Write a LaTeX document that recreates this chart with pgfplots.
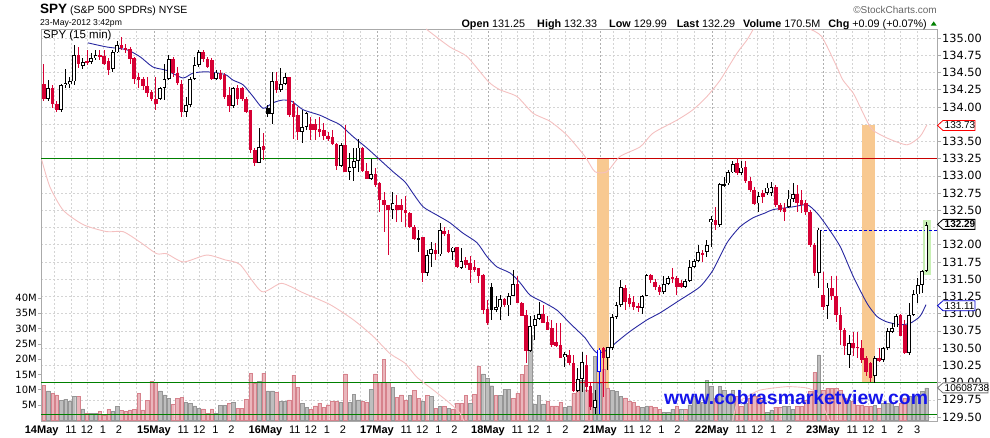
\documentclass[border=0pt]{standalone}
\usepackage{pgfplots}
\pgfplotsset{compat=1.18}
\usepackage{pgfplotstable}
\usepackage{fontspec}
\setmainfont{Liberation Sans}
\newfontfamily\dv{DejaVu Sans}
\definecolor{candred}{RGB}{214,0,52}
\definecolor{volred}{RGB}{234,182,188}
\definecolor{volredb}{RGB}{214,130,140}
\definecolor{volgray}{RGB}{190,190,190}
\definecolor{volgrayb}{RGB}{150,150,150}
\definecolor{gridc}{RGB}{212,212,212}
\definecolor{daygrid}{RGB}{175,175,175}
\definecolor{framec}{RGB}{170,170,170}
\definecolor{bbpink}{RGB}{244,192,192}
\definecolor{manavy}{RGB}{40,40,160}
\definecolor{orng}{RGB}{248,201,145}
\definecolor{hlgreen}{RGB}{200,240,180}
\definecolor{grnline}{RGB}{0,128,0}
\definecolor{redline}{RGB}{200,0,0}
\definecolor{wwwblue}{RGB}{20,20,235}

\pgfplotstableread{
i o h l c k
0 134.34 134.63 134.08 134.11 0
1 134.11 134.39 134.09 134.28 1
2 134.28 134.32 133.98 134.05 0
3 134.04 134.08 133.93 133.96 0
4 133.96 134.34 133.93 134.32 1
5 134.32 134.55 134.27 134.35 1
6 134.34 134.44 134.28 134.37 1
7 134.37 134.90 134.32 134.75 1
8 134.75 134.87 134.56 134.63 0
9 134.59 134.71 134.55 134.65 1
10 134.67 134.83 134.61 134.64 0
11 134.65 134.78 134.63 134.71 1
12 134.71 134.83 134.68 134.75 1
13 134.75 134.83 134.68 134.72 0
14 134.74 134.83 134.61 134.63 0
15 134.66 134.71 134.46 134.54 0
16 134.55 134.83 134.51 134.79 1
17 134.79 134.95 134.78 134.90 1
18 134.90 135.02 134.83 134.85 0
19 134.86 134.92 134.78 134.83 0
20 134.84 134.87 134.63 134.69 0
21 134.71 134.73 134.34 134.41 0
22 134.44 134.49 134.27 134.39 0
23 134.40 134.44 134.25 134.30 0
24 134.30 134.44 134.15 134.20 0
25 134.21 134.25 134.08 134.11 0
26 134.12 134.44 133.96 134.05 0
27 134.12 134.29 134.10 134.27 1
28 134.27 134.63 134.10 134.41 1
29 134.41 134.75 134.39 134.69 1
30 134.69 134.73 134.44 134.49 0
31 134.49 134.58 134.32 134.34 0
32 134.34 134.39 133.86 133.93 0
33 133.93 134.15 133.86 134.03 1
34 134.03 134.44 134.00 134.41 1
35 134.41 134.73 134.39 134.61 1
36 134.61 134.82 134.58 134.79 1
37 134.80 134.83 134.66 134.69 0
38 134.69 134.73 134.56 134.58 0
39 134.68 134.71 134.39 134.41 0
40 134.41 134.54 134.39 134.50 1
41 134.50 134.54 134.39 134.41 0
42 134.46 134.49 134.12 134.15 0
43 134.17 134.29 133.93 134.01 0
44 134.01 134.29 133.99 134.27 1
45 134.28 134.32 134.03 134.11 0
46 134.27 134.29 134.08 134.11 0
47 134.12 134.15 133.91 133.93 0
48 133.96 133.96 133.33 133.37 0
49 133.37 133.40 133.14 133.19 0
50 133.19 133.69 133.18 133.42 1
51 133.43 133.62 133.23 133.37 0
52 133.98 134.03 133.86 133.90 2
53 133.90 134.51 133.76 134.37 1
54 134.37 134.51 134.20 134.25 0
55 134.25 134.56 134.22 134.33 1
56 134.33 134.49 134.32 134.43 1
57 134.43 134.44 133.86 133.88 0
58 134.05 134.08 133.54 133.86 0
59 133.88 134.00 133.52 133.64 0
60 133.64 133.96 133.48 133.71 1
61 133.71 133.93 133.67 133.91 1
62 133.75 133.86 133.52 133.67 0
63 133.75 133.83 133.52 133.67 0
64 133.68 133.86 133.57 133.64 0
65 133.67 133.76 133.52 133.58 0
66 133.58 133.64 133.50 133.54 0
67 133.57 133.66 133.45 133.47 0
68 133.47 133.47 133.08 133.14 0
69 133.14 133.47 133.13 133.45 1
70 133.45 133.74 133.05 133.06 0
71 133.06 133.33 132.94 133.13 1
72 133.12 133.40 132.93 133.21 1
73 133.21 133.54 133.06 133.41 1
74 133.41 133.42 133.06 133.07 0
75 133.07 133.19 132.95 132.96 0
76 132.96 133.25 132.94 133.03 1
77 133.03 133.11 132.84 132.87 0
78 132.89 132.91 132.48 132.65 0
79 132.65 132.77 132.19 132.58 0
80 132.58 132.58 131.85 132.50 0
81 132.51 132.77 132.38 132.60 1
82 132.58 132.72 132.33 132.50 0
83 132.58 132.67 132.33 132.50 0
84 132.51 132.70 132.26 132.46 0
85 132.46 132.48 132.24 132.26 0
86 132.26 132.29 132.07 132.08 0
87 132.08 132.21 131.90 132.10 1
88 132.11 132.12 131.46 131.59 0
89 131.59 131.92 131.54 131.85 1
90 131.86 132.04 131.68 131.94 1
91 131.92 132.02 131.78 131.86 0
92 131.86 132.31 131.84 132.21 1
93 132.20 132.26 132.13 132.15 0
94 132.16 132.21 131.88 131.90 0
95 131.90 131.97 131.78 131.96 1
96 131.96 131.97 131.66 131.67 0
97 131.67 131.95 131.65 131.76 1
98 131.78 131.83 131.66 131.71 0
99 131.73 131.83 131.44 131.64 0
100 131.68 131.78 131.61 131.64 0
101 131.66 131.66 131.44 131.54 0
102 131.56 131.58 131.00 131.06 0
103 131.07 131.20 130.83 130.86 0
104 131.39 131.44 130.91 131.06 2
105 131.06 131.25 131.03 131.09 1
106 131.09 131.27 130.91 131.21 1
107 131.21 131.22 131.10 131.12 0
108 131.12 131.30 130.97 131.26 1
109 131.26 131.63 131.25 131.43 1
110 131.43 131.54 131.15 131.16 0
111 131.16 131.17 130.96 130.97 0
112 130.98 131.05 130.28 130.46 0
113 130.46 130.96 130.45 130.82 1
114 130.82 130.98 130.62 130.92 1
115 130.92 131.17 130.91 130.99 1
116 131.00 131.12 130.86 130.87 0
117 130.88 130.96 130.76 130.77 0
118 130.79 130.91 130.52 130.54 0
119 130.59 130.86 130.52 130.53 0
120 130.54 130.86 130.35 130.36 0
121 130.37 130.45 130.23 130.41 1
122 130.40 130.47 130.25 130.28 0
123 130.29 130.40 129.87 129.88 0
124 129.88 130.21 129.87 130.05 1
125 130.05 130.45 129.87 130.30 1
126 130.25 130.40 129.86 129.93 0
127 129.95 129.99 129.60 129.65 0
128 129.63 129.89 129.55 129.75 1
129 130.16 130.50 129.55 130.48 3
130 130.50 130.52 129.79 130.36 0
131 130.36 130.52 130.18 130.51 1
132 130.50 131.00 130.47 130.95 1
133 130.95 131.17 130.93 131.13 1
134 131.13 131.49 131.10 131.38 1
135 131.38 131.42 131.05 131.17 0
136 131.23 131.29 131.10 131.14 0
137 131.17 131.25 131.05 131.09 0
138 131.11 131.15 131.03 131.08 0
139 131.08 131.27 131.00 131.26 1
140 131.26 131.58 131.25 131.56 1
141 131.56 131.58 131.44 131.49 0
142 131.46 131.51 131.34 131.38 0
143 131.38 131.42 131.27 131.31 0
144 131.31 131.54 131.29 131.43 1
145 131.43 131.55 131.42 131.52 1
146 131.53 131.66 131.44 131.50 0
147 131.51 131.54 131.27 131.39 0
148 131.44 131.49 131.37 131.39 0
149 131.39 131.50 131.37 131.47 1
150 131.47 131.78 131.46 131.68 1
151 131.68 131.79 131.66 131.76 1
152 131.76 131.99 131.75 131.89 1
153 131.88 131.92 131.75 131.85 0
154 131.89 132.07 131.83 132.00 1
155 132.33 132.41 131.97 132.37 1
156 132.36 132.55 132.21 132.29 0
157 132.29 132.89 132.26 132.88 1
158 132.86 132.99 132.84 132.88 1
159 132.89 133.08 132.87 133.05 1
160 133.05 133.21 133.04 133.17 1
161 133.18 133.26 133.01 133.04 0
162 133.04 133.21 133.01 133.12 1
163 133.13 133.21 132.90 132.92 0
164 132.92 132.99 132.77 132.79 0
165 132.80 132.84 132.58 132.59 0
166 132.60 132.77 132.48 132.71 1
167 132.75 132.79 132.60 132.70 0
168 132.75 132.90 132.72 132.83 1
169 132.75 132.91 132.70 132.84 1
170 132.84 132.87 132.55 132.58 0
171 132.58 132.60 132.48 132.51 0
172 132.53 132.60 132.35 132.47 0
173 132.55 132.79 132.53 132.67 1
174 132.67 132.89 132.62 132.74 1
175 132.74 132.87 132.47 132.60 0
176 132.65 132.79 132.46 132.58 0
177 132.60 132.65 132.43 132.47 0
178 132.47 132.50 131.97 132.00 0
179 132.00 132.02 131.54 131.59 0
180 131.59 132.24 131.37 132.22 1
181 131.27 131.61 131.05 131.10 0
182 131.11 131.44 130.93 131.38 1
183 131.38 131.54 131.20 131.25 0
184 131.25 131.54 130.88 130.98 0
185 130.98 131.10 130.54 130.76 0
186 130.77 130.79 130.40 130.53 0
187 130.40 130.69 130.21 130.58 1
188 130.58 130.74 130.38 130.50 0
189 130.52 130.74 130.35 130.50 0
190 130.50 130.62 130.28 130.33 0
191 130.35 130.38 130.09 130.16 0
192 130.28 130.30 130.01 130.06 0
193 130.09 130.38 129.99 130.35 1
194 130.35 130.50 130.30 130.32 0
195 130.33 130.52 130.30 130.50 1
196 130.50 130.79 130.47 130.75 1
197 130.74 130.86 130.72 130.79 1
198 130.80 131.00 130.80 130.97 1
199 130.98 131.00 130.67 130.68 0
200 130.83 130.91 130.42 130.43 0
201 130.43 131.15 130.40 130.98 1
202 130.98 131.34 130.96 131.28 1
203 131.28 131.51 131.15 131.42 1
204 131.42 131.64 131.30 131.62 1
205 131.62 132.33 131.61 132.29 1
}\candles

\pgfplotstableread{
i v k
0 11.5 0
1 9.6 1
2 8.8 0
3 8.3 0
4 6.6 1
5 6.9 1
6 6.3 1
7 7.8 1
8 7.8 0
9 3.7 1
10 2.3 0
11 2.3 1
12 2.3 1
13 2.9 0
14 1.7 0
15 3.6 0
16 3.0 1
17 4.6 1
18 3.3 0
19 3.0 0
20 3.4 0
21 3.6 0
22 8.8 0
23 3.4 0
24 6.6 0
25 12.8 0
26 12.3 0
27 9.6 1
28 8.3 1
29 7.1 1
30 5.3 0
31 7.2 0
32 7.5 0
33 5.9 1
34 5.6 1
35 4.7 1
36 4.0 1
37 3.7 0
38 2.3 0
39 3.7 0
40 2.3 1
41 5.0 1
42 5.0 1
43 5.5 0
44 5.9 1
45 4.0 0
46 4.0 0
47 6.9 0
48 15.4 0
49 12.1 0
50 12.8 1
51 15.4 0
52 9.6 1
53 9.6 1
54 9.2 0
55 6.3 1
56 6.3 1
57 6.7 0
58 14.8 0
59 10.8 0
60 5.6 1
61 4.2 1
62 3.6 0
63 4.7 0
64 5.6 0
65 4.2 0
66 5.1 0
67 6.2 0
68 6.2 0
69 5.9 1
70 15.2 0
71 5.9 1
72 8.6 1
73 6.7 1
74 6.2 0
75 5.9 0
76 10.2 1
77 15.2 0
78 12.3 0
79 20.0 0
80 12.3 0
81 10.8 1
82 7.5 0
83 8.3 0
84 6.7 0
85 8.2 1
86 9.9 0
87 7.2 0
88 6.1 1
89 8.2 0
90 7.9 1
91 3.9 0
92 4.5 1
93 4.5 0
94 3.9 1
95 3.6 0
96 5.6 0
97 5.6 0
98 8.2 0
99 5.6 1
100 8.6 0
101 17.8 0
102 15.2 1
103 13.7 1
104 11.3 1
105 8.2 0
106 8.2 1
107 10.1 1
108 10.1 1
109 7.2 0
110 8.8 0
111 15.0 0
112 18.0 0
113 27.9 1
114 5.4 1
115 8.2 1
116 5.4 1
117 6.1 0
118 4.7 0
119 4.7 0
120 5.9 0
121 4.3 1
122 4.7 1
123 8.8 0
124 11.0 0
125 13.0 1
126 10.0 0
127 9.0 0
128 21.0 1
129 12.0 1
130 16.6 0
131 10.6 0
132 9.9 1
133 9.4 1
134 7.8 1
135 7.3 0
136 6.2 0
137 5.9 0
138 4.7 0
139 4.2 1
140 4.7 1
141 4.7 0
142 4.2 0
143 3.6 0
144 2.7 1
145 2.7 1
146 3.6 1
147 4.7 0
148 3.6 1
149 3.6 0
150 5.1 1
151 7.8 1
152 6.2 1
153 5.8 1
154 13.0 1
155 11.2 1
156 7.2 0
157 11.2 1
158 9.7 1
159 8.6 1
160 9.7 1
161 7.9 0
162 4.6 0
163 5.5 1
164 7.2 0
165 7.9 0
166 7.9 0
167 6.6 0
168 2.5 1
169 3.4 1
170 4.3 0
171 4.3 0
172 4.7 1
173 4.5 1
174 3.6 1
175 4.5 0
176 4.5 0
177 6.6 0
178 9.4 0
179 15.6 0
180 21.4 1
181 9.9 0
182 10.5 0
183 10.5 0
184 10.5 0
185 9.9 0
186 7.2 0
187 6.6 1
188 6.1 0
189 5.0 0
190 5.0 0
191 4.5 0
192 4.5 0
193 5.0 1
194 3.9 0
195 5.5 1
196 5.5 1
197 5.5 1
198 4.5 1
199 5.5 0
200 7.2 0
201 7.9 1
202 7.9 1
203 7.9 1
204 9.4 1
205 10.6 1
}\vol

\pgfplotstableread{
i p
10.2 134.93
14.6 134.87
19.2 134.83
22.3 134.73
25.3 134.58
28.5 134.53
32.3 134.42
34.6 134.49
37.8 134.51
42.1 134.47
43.9 134.39
46.3 134.32
48.6 134.15
50.9 133.98
53.2 134.06
55.5 134.10
57.6 134.08
60.2 133.96
64.1 133.88
66.5 133.81
68.8 133.74
71.8 133.57
75.1 133.40
78.1 133.23
81.1 133.06
83.9 132.91
85.7 132.75
88.1 132.55
91.3 132.43
94.3 132.32
97.3 132.17
100.6 132.03
102.9 131.83
105.2 131.68
108.3 131.59
110.6 131.45
112.9 131.27
115.9 131.17
119.2 131.05
122.2 130.86
125.7 130.65
126.9 130.54
128.5 130.43
130.8 130.47
133.1 130.59
136.1 130.74
140.1 130.91
143.1 131.01
147.8 131.20
152.4 131.39
155.4 131.63
158.7 132.03
161.7 132.26
164.7 132.39
167.5 132.46
169.4 132.51
174.0 132.55
177.3 132.58
179.6 132.46
182.0 132.26
185.0 131.97
188.0 131.54
191.2 131.15
193.5 130.96
195.8 130.88
198.9 130.84
201.2 130.86
203.5 130.96
204.9 131.13
}\ma

\pgfplotstableread{
i p
88.8 135.13
94.3 134.87
98.3 134.73
103.2 134.37
105.9 134.25
109.9 134.15
113.6 133.91
117.6 133.79
121.5 133.59
125.7 133.28
128.0 133.06
130.8 133.06
133.8 133.28
138.5 133.42
141.5 133.62
147.1 133.81
150.8 133.96
154.0 134.15
157.1 134.39
161.0 134.78
163.3 134.97
164.8 135.13
}\bbuA

\pgfplotstableread{
i p
177.9 135.13
180.7 135.02
184.2 134.58
185.6 134.39
188.0 134.20
189.6 134.00
191.4 133.77
192.6 133.66
195.8 133.55
200.5 133.45
203.5 133.57
205.1 133.74
}\bbuB

\pgfplotstableread{
i p
-0.5 133.23
1.4 132.84
4.5 132.50
9.2 132.29
14.6 132.19
18.4 132.19
22.3 132.04
26.2 131.87
28.5 131.87
32.4 131.75
37.8 131.85
42.1 131.78
45.6 131.71
50.6 131.32
55.2 131.44
60.3 131.30
66.5 131.13
71.9 130.91
76.5 130.67
80.4 130.42
83.9 130.28
86.6 130.08
90.5 129.89
94.3 129.70
96.6 129.56
97.6 129.44
}\bblA

\pgfplotstableread{
i p
160.0 129.44
161.0 129.70
163.3 129.79
166.3 129.89
172.6 129.94
177.3 129.92
179.6 129.85
181.0 129.65
182.6 129.44
}\bblB

\pgfplotsset{
  base/.style={scale only axis, width=896pt, height=392pt, at={(41pt,17pt)},
    anchor=south west, xmin=-0.67, xmax=207.46},
  wick/.style={draw=none, mark=none, forget plot,
    error bars/y dir=both, error bars/y explicit, error bars/error mark=none,
    error bars/error bar style={line width=0.8pt, draw=#1}},
  body/.style 2 args={draw=none, mark=none, forget plot,
    error bars/y dir=both, error bars/y explicit, error bars/error mark=none,
    error bars/error bar style={line width=#2, draw=#1}},
}
\newcommand{\pricetick}{129.5,129.75,130,130.25,130.5,130.75,131,131.25,131.5,131.75,132,132.25,132.5,132.75,133,133.25,133.5,133.75,134,134.25,134.5,134.75,135}
\newcommand{\pricelab}{129.5,129.75,130,130.25,130.5,130.75,131,131.25,131.5,131.75,132,132.5,132.75,133,133.25,133.5,134,134.25,134.5,134.75,135}
\newcommand{\hourticks}{6.30,10.01,13.73,17.45,32.39,36.10,39.82,43.54,58.29,62.00,65.72,69.44,84.19,87.90,91.62,95.34,109.97,113.68,117.40,121.12,135.99,139.70,143.42,147.14,162.00,165.71,169.43,173.15,187.78,191.49,195.21,198.93,202.87}
\newcommand{\minorticks}{2.51,21.39,28.60,47.48,54.50,73.38,80.40,99.28,106.18,125.06,132.20,151.08,158.21,177.09,183.99}
\newcommand{\dayticks}{-0.51,25.58,51.48,77.38,103.16,129.18,155.19,180.97}

\newcommand{\tagbox}[4]{%
  \filldraw[draw=#2, fill=white, line width=0.8pt] (937.5pt,#1pt) -- (943pt,#1pt+5pt) -- (#3pt,#1pt+5pt) -- (#3pt,#1pt-5pt) -- (943pt,#1pt-5pt) -- cycle;
  \node[anchor=west, inner sep=0pt] at (944.5pt,#1pt) {\fontsize{10}{12}\selectfont #4};}

\begin{document}
\begin{tikzpicture}
\path[use as bounding box] (0pt,0pt) rectangle (990pt,438pt);

% ---- axis 1: grid and highlights
\begin{axis}[base, ymin=129.442, ymax=135.131,
  axis line style={draw=none}, tick style={draw=none},
  xtick/.expanded=\hourticks, minor xtick/.expanded=\minorticks,
  extra x ticks/.expanded=\dayticks,
  extra x tick style={major grid style={color=daygrid, dash pattern=on 2pt off 2pt, line width=0.5pt}},
  ytick/.expanded=\pricetick,
  grid=both,
  major grid style={color=gridc, dash pattern=on 2pt off 2pt, line width=0.5pt},
  minor grid style={color=gridc, dash pattern=on 2pt off 2pt, line width=0.5pt},
  xticklabels={}, yticklabels={}, extra x tick labels={}]
\fill[orng] (axis cs:128.4,129.92) rectangle (axis cs:131.3,133.26);
\fill[orng] (axis cs:190.0,130.01) rectangle (axis cs:193.05,133.74);
\fill[hlgreen] (axis cs:204.2,131.56) rectangle (axis cs:206.0,132.36);
\end{axis}

% ---- axis 2: volume
\begin{axis}[base, ymin=-0.23, ymax=128.0,
  axis line style={draw=none},
  xtick=\empty, ytick={5,10,15,20,25,30,35,40},
  yticklabels={5M,10M,15M,20M,25M,30M,35M,40M},
  ytick pos=left, tick align=outside, major tick length=3pt,
  tick style={color=framec, line width=0.6pt},
  yticklabel style={font=\dv\fontsize{10}{12}\selectfont, inner sep=0pt, xshift=-1pt}]
\addplot[ybar, bar width=3.4pt, bar shift=0pt, fill=volred, draw=volredb, line width=0.4pt,
  restrict expr to domain={\thisrow{k}}{0:0}] table[x=i, y=v] {\vol};
\addplot[ybar, bar width=3.4pt, bar shift=0pt, fill=volgray, draw=volgrayb, line width=0.4pt,
  restrict expr to domain={\thisrow{k}}{1:1}] table[x=i, y=v] {\vol};
\end{axis}

% ---- axis 3: price
\begin{axis}[base, ymin=129.442, ymax=135.131,
  axis line style={color=framec, line width=0.7pt},
  ytick/.expanded=\pricelab,
  ytick pos=right, yticklabel pos=right, tick align=outside,
  major tick length=3.5pt,
  y tick style={color=framec, line width=0.6pt},
  x tick style={draw=none},
  yticklabel style={font=\dv\fontsize{11.3}{13}\selectfont, inner sep=0pt, xshift=1.5pt,
    /pgf/number format/.cd, fixed, fixed zerofill, precision=2, assume math mode=true},
  xtick/.expanded=\hourticks,
  xticklabels={11,12,1,2,11,12,1,2,11,12,1,2,11,12,1,2,11,12,1,2,11,12,1,2,11,12,1,2,11,12,1,2,3},
  extra x ticks/.expanded=\dayticks,
  extra x tick labels={\textbf{14May},\textbf{15May},\textbf{16May},\textbf{17May},\textbf{18May},\textbf{21May},\textbf{22May},\textbf{23May}},
  xticklabel style={font=\fontsize{11}{13}\selectfont, inner sep=0pt, anchor=north, yshift=-1pt},
  extra x tick style={xticklabel style={font=\fontsize{11}{13}\selectfont\bfseries}},
]
% horizontal reference lines
\addplot[grnline, line width=0.8pt, forget plot] coordinates {(-0.67,133.26) (77.4,133.26)};
\addplot[redline, line width=0.8pt, forget plot] coordinates {(77.4,133.26) (207.46,133.26)};
\addplot[grnline, line width=0.8pt, forget plot] coordinates {(-0.67,130.00) (207.46,130.00)};
\addplot[redline, line width=0.8pt, forget plot] coordinates {(123,130.00) (131,130.00)};
\addplot[grnline, line width=0.8pt, forget plot] coordinates {(-0.67,129.54) (207.46,129.54)};
\addplot[blue!85!black, line width=0.7pt, dash pattern=on 3pt off 2pt, forget plot] coordinates {(180,132.21) (207.46,132.21)};
% Bollinger bands
\addplot[bbpink, line width=0.9pt, smooth, tension=0.4, forget plot] table[x=i, y=p] {\bblA};
\addplot[bbpink, line width=0.9pt, smooth, tension=0.4, forget plot] table[x=i, y=p] {\bblB};
\addplot[bbpink, line width=0.9pt, smooth, tension=0.4, forget plot] table[x=i, y=p] {\bbuA};
\addplot[bbpink, line width=0.9pt, smooth, tension=0.4, forget plot] table[x=i, y=p] {\bbuB};
% moving average
\addplot[manavy, line width=0.9pt, smooth, tension=0.4, forget plot] table[x=i, y=p] {\ma};
% wicks
\addplot[wick=candred, restrict expr to domain={\thisrow{k}}{0:0}] table[x=i, y expr={(\thisrow{h}+\thisrow{l})/2}, y error expr={(\thisrow{h}-\thisrow{l})/2}] {\candles};
\addplot[wick=black, restrict expr to domain={\thisrow{k}}{1:2}] table[x=i, y expr={(\thisrow{h}+\thisrow{l})/2}, y error expr={(\thisrow{h}-\thisrow{l})/2}] {\candles};
\addplot[wick=blue, restrict expr to domain={\thisrow{k}}{3:3}] table[x=i, y expr={(\thisrow{h}+\thisrow{l})/2}, y error expr={(\thisrow{h}-\thisrow{l})/2}] {\candles};
% bodies
\addplot[body={candred}{3.6pt}, restrict expr to domain={\thisrow{k}}{0:0}] table[x=i, y expr={(\thisrow{o}+\thisrow{c})/2}, y error expr={max(abs(\thisrow{o}-\thisrow{c})/2,0.007)}] {\candles};
\addplot[body={black}{3.6pt}, restrict expr to domain={\thisrow{k}}{2:2}] table[x=i, y expr={(\thisrow{o}+\thisrow{c})/2}, y error expr={max(abs(\thisrow{o}-\thisrow{c})/2,0.007)}] {\candles};
\addplot[body={black}{3.8pt}, restrict expr to domain={\thisrow{k}}{1:1}] table[x=i, y expr={(\thisrow{o}+\thisrow{c})/2}, y error expr={max(abs(\thisrow{o}-\thisrow{c})/2,0.008)}] {\candles};
\addplot[body={white}{2.0pt}, restrict expr to domain={\thisrow{k}}{1:1}] table[x=i, y expr={(\thisrow{o}+\thisrow{c})/2}, y error expr={max(abs(\thisrow{o}-\thisrow{c})/2-0.013,0)}] {\candles};
\addplot[body={blue}{3.8pt}, restrict expr to domain={\thisrow{k}}{3:3}] table[x=i, y expr={(\thisrow{o}+\thisrow{c})/2}, y error expr={max(abs(\thisrow{o}-\thisrow{c})/2,0.008)}] {\candles};
\addplot[body={white}{2.0pt}, restrict expr to domain={\thisrow{k}}{3:3}] table[x=i, y expr={(\thisrow{o}+\thisrow{c})/2}, y error expr={max(abs(\thisrow{o}-\thisrow{c})/2-0.013,0)}] {\candles};
\end{axis}

% ---- annotations and header
\node[anchor=west, inner sep=0pt] at (43pt,402pt) {\fontsize{11.5}{13}\selectfont SPY (15 min)};
\node[anchor=base west, inner sep=0pt] at (40pt,424pt) {\fontsize{13.5}{15}\selectfont\bfseries SPY};
\node[anchor=base west, inner sep=0pt] at (70pt,424pt) {\fontsize{10.5}{12}\selectfont (S\&P 500 SPDRs) NYSE};
\node[anchor=base west, inner sep=0pt] at (40pt,412pt) {\fontsize{8.6}{10}\selectfont 23-May-2012 3:42pm};
\node[anchor=base east, inner sep=0pt] at (927pt,410.5pt) {\fontsize{10.8}{12}\selectfont
  \textbf{Open} 131.25\hspace{9pt} \textbf{High} 132.33\hspace{9pt} \textbf{Low} 129.99\hspace{7pt} \textbf{Last} 132.29\hspace{5pt} \textbf{Volume} 170.5M\hspace{5pt} \textbf{Chg} +0.09 (+0.07\%)};
\fill[green!50!black] (930.7pt,412.3pt) -- (936.7pt,412.3pt) -- (933.7pt,416.6pt) -- cycle;
\node[anchor=base east, inner sep=0pt, text=black!60] at (937pt,424pt) {\fontsize{10}{12}\selectfont \textcopyright StockCharts.com};

\tagbox{312.5}{red}{975}{133.73}
\tagbox{213.6}{black}{975}{\textbf{132.29}}
\tagbox{132.3}{blue!80!black}{975}{131.11}
\tagbox{50.1}{black!55}{988}{10608738}

\node[anchor=base west, inner sep=0pt, text=wwwblue] at (664pt,33pt) {\fontsize{19.4}{22}\selectfont\bfseries www.cobrasmarketview.com};
\end{tikzpicture}
\end{document}
